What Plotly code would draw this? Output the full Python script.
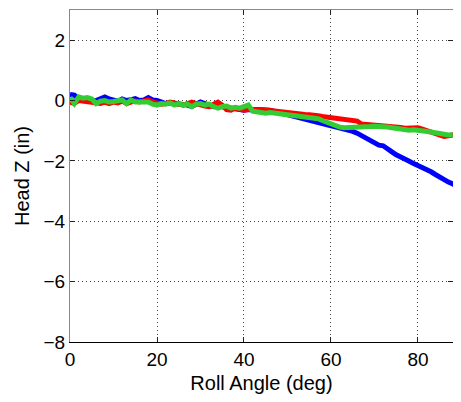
import plotly.graph_objects as go

deg = list(range(0, 91))

blue = [0.20, 0.18, 0.05, 0.00, 0.02, -0.02, 0.00, 0.05, 0.12, 0.05,
        0.02, -0.02, 0.05, 0.00, 0.03, 0.06, 0.00, 0.02, 0.10, 0.02,
        0.00, -0.05, -0.10, -0.08, -0.10, -0.12, -0.10, -0.15, -0.20, -0.10,
        -0.05, -0.10, -0.15, -0.20, -0.18, -0.20, -0.22, -0.25, -0.30, -0.30,
        -0.32, -0.30, -0.30, -0.31, -0.32, -0.31, -0.32, -0.36, -0.40, -0.44,
        -0.48, -0.52, -0.55, -0.58, -0.62, -0.65, -0.68, -0.72, -0.76, -0.80,
        -0.84, -0.87, -0.90, -0.94, -0.98, -1.02, -1.08, -1.16, -1.25, -1.34,
        -1.42, -1.48, -1.50, -1.58, -1.70, -1.80, -1.86, -1.93, -2.01, -2.09,
        -2.15, -2.20, -2.27, -2.36, -2.45, -2.54, -2.62, -2.70, -2.76, -2.84,
        -2.93]

red = [-0.05, -0.10, 0.00, -0.02, 0.00, -0.05, -0.08, -0.10, -0.05, -0.10,
       -0.05, -0.08, -0.02, -0.10, -0.05, -0.02, -0.05, -0.02, 0.02, -0.05,
       -0.10, -0.12, -0.10, -0.05, -0.08, -0.10, -0.15, -0.10, -0.05, -0.10,
       -0.15, -0.18, -0.20, -0.12, -0.05, -0.15, -0.30, -0.32, -0.25, -0.28,
       -0.32, -0.30, -0.28, -0.30, -0.30, -0.32, -0.33, -0.35, -0.38, -0.40,
       -0.42, -0.44, -0.45, -0.45, -0.46, -0.47, -0.47, -0.50, -0.53, -0.55,
       -0.56, -0.57, -0.60, -0.63, -0.64, -0.66, -0.68, -0.78, -0.79, -0.80,
       -0.80, -0.81, -0.82, -0.83, -0.85, -0.87, -0.89, -0.92, -0.90, -0.88,
       -0.90, -0.95, -1.00, -1.02, -1.06, -1.12, -1.19, -1.17, -1.13, -1.10,
       -1.08]

green = [0.10, -0.10, 0.12, 0.08, 0.10, 0.05, -0.10, -0.02, 0.00, -0.05,
         -0.03, 0.00, 0.02, -0.10, 0.02, -0.05, -0.05, -0.08, -0.05, -0.12,
         -0.15, -0.10, -0.12, -0.08, -0.15, -0.10, -0.15, -0.12, -0.20, -0.12,
         -0.10, -0.15, -0.12, -0.20, -0.25, -0.20, -0.18, -0.25, -0.22, -0.25,
         -0.20, -0.15, -0.35, -0.38, -0.40, -0.42, -0.40, -0.42, -0.45, -0.47,
         -0.48, -0.50, -0.52, -0.53, -0.54, -0.55, -0.57, -0.60, -0.66, -0.72,
         -0.78, -0.83, -0.88, -0.90, -0.90, -0.90, -0.89, -0.88, -0.87, -0.86,
         -0.85, -0.85, -0.86, -0.88, -0.90, -0.92, -0.95, -0.98, -0.98, -0.97,
         -0.98, -1.00, -1.02, -1.04, -1.07, -1.10, -1.13, -1.14, -1.13]

x_ticks = [0, 20, 40, 60, 80]
y_ticks = [-8, -6, -4, -2, 0, 2]

FONT = "Liberation Sans, Arial, sans-serif"

fig = go.Figure()
fig.add_trace(go.Scatter(x=deg, y=blue, mode="lines",
                         line=dict(color="#0000ff", width=5)))
fig.add_trace(go.Scatter(x=deg, y=red, mode="lines",
                         line=dict(color="#ff0000", width=5)))
fig.add_trace(go.Scatter(x=deg[:len(green)], y=green, mode="lines",
                         line=dict(color="#33cc33", width=5)))

grid = dict(showgrid=True, gridcolor="#444444", gridwidth=1, griddash="1px,3px")

# visible page area is x 8..453; the reference's axes run past the right edge,
# so the x range is trimmed to keep the same px-per-degree scale
X_RANGE = [0, 88.05]

fig.update_layout(
    width=445, height=386,
    margin=dict(l=62, r=0, t=2, b=52),
    paper_bgcolor="white", plot_bgcolor="white",
    showlegend=False,
    font=dict(family=FONT, color="black", size=19),
    xaxis=dict(range=X_RANGE, tickvals=x_ticks, ticks="inside", ticklen=5,
               tickcolor="#222222", showline=True, linecolor="black", linewidth=1,
               zeroline=False, mirror=False,
               tickfont=dict(size=19),
               title=dict(text="Roll Angle (deg)", font=dict(size=20), standoff=10),
               **grid),
    xaxis2=dict(range=X_RANGE, tickvals=x_ticks, ticks="inside", ticklen=5,
                tickcolor="#222222", showline=True, linecolor="#888888", linewidth=1,
                overlaying="x", side="top", showticklabels=False, showgrid=False,
                zeroline=False),
    yaxis=dict(range=[-8, 3], tickvals=y_ticks, ticks="inside", ticklen=5,
               tickcolor="#222222", showline=True, linecolor="#888888", linewidth=1,
               zeroline=False, mirror="ticks",
               tickfont=dict(size=19),
               title=dict(text="Head Z (in)", font=dict(size=20), standoff=8),
               **grid),
)
fig.add_trace(go.Scatter(x=[0], y=[None], xaxis="x2", mode="lines",
                         hoverinfo="skip", showlegend=False))

fig.write_html("out.html")
